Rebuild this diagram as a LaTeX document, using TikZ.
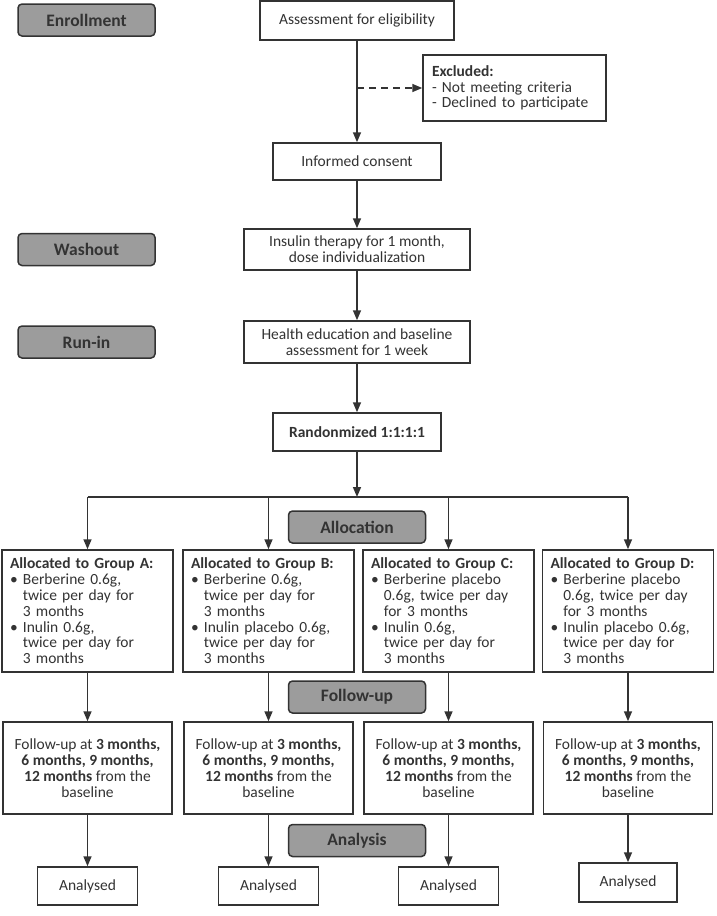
\documentclass[tikz,border=0pt]{standalone}
\usepackage{fontspec}
\setmainfont{Carlito}
\usepackage{xcolor}
\usepackage{tikz}
\usetikzlibrary{arrows.meta}

\definecolor{linegray}{HTML}{333333}
\definecolor{stagegray}{HTML}{9C9C9C}
\newcommand{\ind}{\phantom{\textbullet\ }}

\tikzset{
	box/.style={draw=linegray, line width=1.5pt, fill=white, text=linegray, align=center, inner sep=0pt, font=\fontsize{15.5}{15.8}\selectfont},
	groupbox/.style={box, align=left, text width=155pt, inner xsep=8pt, minimum height=122pt},
	stage/.style={draw=linegray, line width=1.5pt, fill=stagegray, rounded corners=4pt, minimum width=137pt, minimum height=32pt, inner sep=0pt, text=linegray, font=\fontsize{17.5}{20}\selectfont\bfseries},
	arr/.style={draw=linegray, line width=1.5pt, -{Triangle[length=10pt,width=8pt]}},
}

\begin{document}
\begin{tikzpicture}[x=1pt, y=-1pt]
\useasboundingbox (0,0) rectangle (716,916);

\node[stage] (enroll) at (86.5,20) {Enrollment};
\node[stage] (washout) at (86.5,249.5) {Washout};
\node[stage] (runin) at (86.5,342) {Run-in};
\node[stage] (alloc) at (357,527) {Allocation};
\node[stage] (follow) at (357,697) {Follow-up};
\node[stage] (analysis) at (357,840.5) {Analysis};

\node[box, minimum width=194pt, minimum height=39pt] (assess) at (357,20.5) {Assessment for eligibility};
\node[box, align=left, text width=165pt, inner xsep=9pt, minimum height=66pt] (excl) at (514.5,88) {\textbf{Excluded:}\\- Not meeting criteria\\- Declined to participate};
\node[box, minimum width=168pt, minimum height=37pt] (consent) at (357,161.5) {Informed consent};
\node[box, minimum width=226pt, minimum height=41pt] (insulin) at (357,249.5) {Insulin therapy for 1 month,\\dose individualization};
\node[box, minimum width=226pt, minimum height=42pt] (health) at (357,342) {Health education and baseline\\assessment for 1 week};
\node[box, minimum width=168pt, minimum height=38pt, font=\fontsize{15.5}{15.8}\selectfont\bfseries] (rand) at (357,432) {Randonmized 1:1:1:1};

\node[groupbox] (gA) at (87.5,611) {\textbf{Allocated to Group A:}\\\textbullet\ Berberine 0.6g,\\\ind twice per day for\\\ind 3 months\\\textbullet\ Inulin 0.6g,\\\ind twice per day for\\\ind 3 months};
\node[groupbox] (gB) at (268.5,611) {\textbf{Allocated to Group B:}\\\textbullet\ Berberine 0.6g,\\\ind twice per day for\\\ind 3 months\\\textbullet\ Inulin placebo 0.6g,\\\ind twice per day for\\\ind 3 months};
\node[groupbox] (gC) at (448.5,611) {\textbf{Allocated to Group C:}\\\textbullet\ Berberine placebo\\\ind 0.6g, twice per day\\\ind for 3 months\\\textbullet\ Inulin 0.6g,\\\ind twice per day for\\\ind 3 months};
\node[groupbox] (gD) at (628,611) {\textbf{Allocated to Group D:}\\\textbullet\ Berberine placebo\\\ind 0.6g, twice per day\\\ind for 3 months\\\textbullet\ Inulin placebo 0.6g,\\\ind twice per day for\\\ind 3 months};

\foreach \g/\x in {A/87.5,B/268.5,C/448.5,D/628}{
	\node[box, minimum width=169pt, minimum height=92pt] (f\g) at (\x,768) {Follow-up at \textbf{3 months,}\\\textbf{6 months, 9 months,}\\\textbf{12 months} from the\\baseline};
}
\node[box, minimum width=100pt, minimum height=38pt] (anA) at (87.5,886) {Analysed};
\node[box, minimum width=100pt, minimum height=38pt] (anB) at (268.5,886) {Analysed};
\node[box, minimum width=100pt, minimum height=38pt] (anC) at (448.5,886) {Analysed};
\node[box, minimum width=98pt, minimum height=39pt] (anD) at (628,882.5) {Analysed};

\coordinate (tap) at (assess.south |- excl.west);
\coordinate (split) at (357,497);

\draw[arr] (assess) -- (consent);
\draw[arr, dash pattern=on 7pt off 5pt] (tap) -- (excl.west);
\draw[arr] (consent) -- (insulin);
\draw[arr] (insulin) -- (health);
\draw[arr] (health) -- (rand);
\draw[arr] (rand) -- (split);
\draw[draw=linegray, line width=1.5pt] (gA.north |- split) -- (gD.north |- split);
\foreach \g in {A,B,C,D}{
	\draw[arr] (g\g.north |- split) -- (g\g.north);
	\draw[arr] (g\g) -- (f\g);
	\draw[arr] (f\g) -- (an\g);
}

\end{tikzpicture}
\end{document}
